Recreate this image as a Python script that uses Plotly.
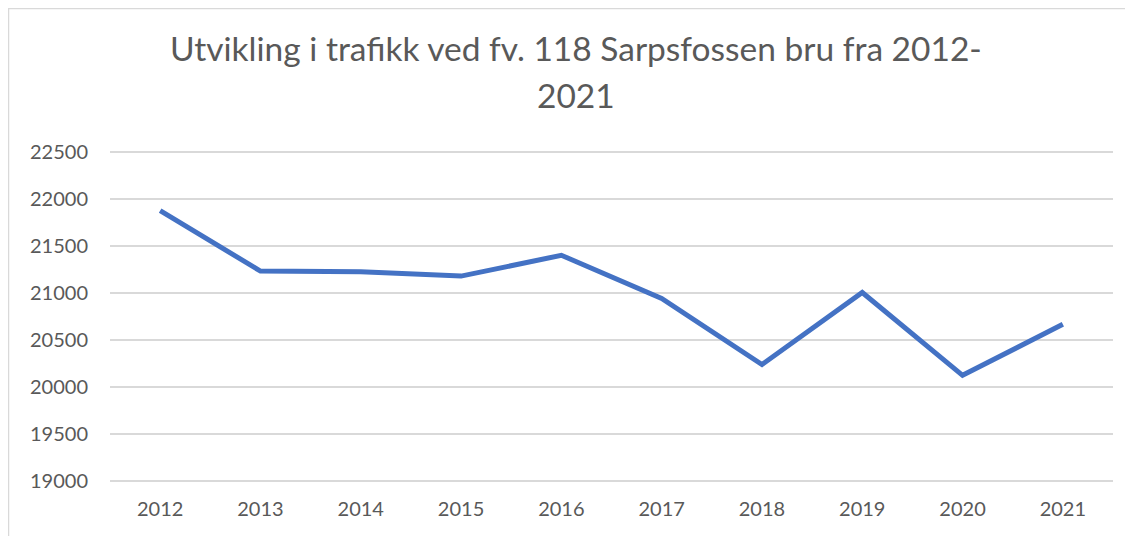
import plotly.graph_objects as go

years = ["2012", "2013", "2014", "2015", "2016", "2017", "2018", "2019", "2020", "2021"]
traffic = [21875, 21232, 21226, 21179, 21400, 20942, 20240, 21005, 20125, 20668]
y_ticks = [19000, 19500, 20000, 20500, 21000, 21500, 22000, 22500]
y_tick_labels = [str(v) for v in y_ticks]
title_line1 = "Utvikling i trafikk ved fv. 118 Sarpsfossen bru fra 2012-"
title_line2 = "2021"

# page has an 8px body margin; work in page pixels and convert
OFF = 8
W, H = 1133 - OFF, 536 - OFF
L, R, T, B = 110 - OFF, 20, 147 - OFF, 50
pw, ph = W - L - R, H - T - B

def px_to_paper_x(px):
    return (px - OFF - L) / pw

def px_to_paper_y(py):
    return (H - B - (py - OFF)) / ph

font_family = "Lato, 'Open Sans', sans-serif"
text_color = "#595959"

fig = go.Figure()
fig.add_trace(go.Scatter(
    x=years, y=traffic, mode="lines",
    line=dict(color="#4472C4", width=5),
    showlegend=False, hoverinfo="x+y",
))

fig.update_layout(
    width=W, height=H,
    margin=dict(l=L, r=R, t=T, b=B, autoexpand=False),
    paper_bgcolor="white", plot_bgcolor="white",
    font=dict(family=font_family, color=text_color, size=20),
    xaxis=dict(
        type="category", range=[-0.5, 9.5],
        showgrid=False, showline=False, zeroline=False,
        ticks="", tickfont=dict(size=20, color=text_color),
        ticklabelstandoff=9,
    ),
    yaxis=dict(
        range=[18950, 22550], tickvals=y_ticks, ticktext=y_tick_labels,
        showgrid=True, gridcolor="#D9D9D9", gridwidth=1.5,
        zeroline=False, showline=False, ticks="",
        tickfont=dict(size=20, color=text_color),
        ticklabelstandoff=21,
    ),
    annotations=[
        dict(text=title_line1, xref="paper", yref="paper",
             x=px_to_paper_x(576), y=px_to_paper_y(48),
             xanchor="center", yanchor="middle", showarrow=False,
             font=dict(size=33.5, color=text_color, family=font_family)),
        dict(text=title_line2, xref="paper", yref="paper",
             x=px_to_paper_x(576), y=px_to_paper_y(95),
             xanchor="center", yanchor="middle", showarrow=False,
             font=dict(size=33.5, color=text_color, family=font_family)),
    ],
    shapes=[
        dict(type="rect", xref="paper", yref="paper",
             x0=px_to_paper_x(8.5), x1=px_to_paper_x(1150),
             y0=px_to_paper_y(560), y1=px_to_paper_y(8.5),
             line=dict(color="#D9D9D9", width=1.5), layer="below"),
    ],
)

fig.write_html("out.html")
